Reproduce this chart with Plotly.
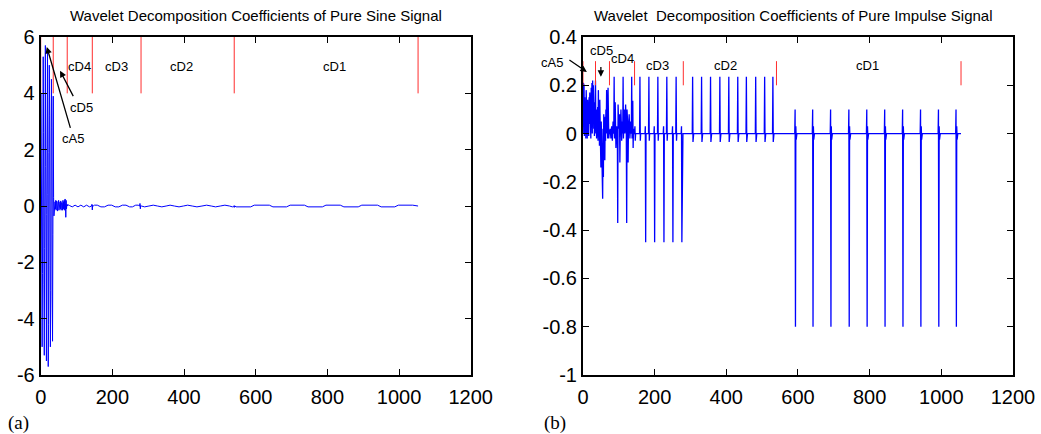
import plotly.graph_objects as go

# ---------------- (a) Pure sine signal: coefficient values ----------------
sine_cA5_x = list(range(1, 36))
sine_cA5 = [4.0, 1.2, -3.1, -5.0, -2.4, 2.9, 5.3, 2.6, -2.8, -5.3, -1.5, 3.8, 5.7, 1.4,
            -4.1, -5.5, -0.3, 5.0, 5.6, 0.4, -5.7, -4.2, 1.9, 5.0, 3.2, -2.1, -5.0, -3.0,
            2.2, 4.5, 2.8, -3.2, -4.8, -1.0, 3.9]
sine_cD5_x = list(range(36, 75))
sine_cD5 = [0.3, -0.35, 0.1, -0.25, 0.15, -0.1, 0.2, -0.15, 0.18, -0.12, 0.15, -0.18, 0.12,
            -0.1, 0.2, -0.15, 0.1, -0.12, 0.15, -0.1, 0.18, -0.15, 0.12, -0.12, 0.1, -0.15,
            0.2, -0.1, 0.15, -0.12, 0.2, -0.15, 0.25, 0.1, -0.4, 0.2, -0.1, 0.05, 0.0]
sine_cD4 = [(75, 0.05), (80, 0.02), (88, -0.03), (96, 0.03), (104, -0.03), (112, 0.03),
            (120, -0.03), (128, 0.03), (136, -0.03), (142, 0.0), (143, 0.06), (144, -0.14),
            (145, 0.03), (147, 0.0)]
sine_cD3 = [(150, 0.03), (158, 0.03), (163, 0.0), (168, -0.03), (178, -0.03), (183, 0.0),
            (188, 0.03), (198, 0.03), (203, 0.0), (208, -0.03), (218, -0.03), (223, 0.0),
            (228, 0.03), (238, 0.03), (243, 0.0), (248, -0.03), (256, -0.03), (261, 0.0),
            (265, 0.03), (272, 0.03), (276, 0.0), (277, 0.09), (278, -0.1), (279, 0.02),
            (281, 0.0)]
sine_cD2 = [(290, -0.03), (302, 0.0), (314, 0.03), (326, 0.0), (338, -0.03), (350, 0.0),
            (361, 0.03), (373, 0.0), (386, -0.03), (398, 0.0), (410, 0.03), (423, 0.0),
            (436, -0.03), (450, 0.0), (463, 0.03), (476, 0.0), (488, -0.03), (501, 0.0),
            (514, 0.03), (527, 0.0), (535, -0.03), (539, 0.0), (540, -0.05), (541, 0.01)]
sine_cD1 = [(545, -0.03), (586, -0.03), (596, 0.03), (638, 0.03), (648, -0.03), (686, -0.03),
            (696, 0.03), (736, 0.03), (746, -0.03), (786, -0.03), (796, 0.03), (836, 0.03),
            (846, -0.03), (886, -0.03), (896, 0.03), (940, 0.03), (950, -0.03), (988, -0.03),
            (998, 0.03), (1038, 0.03), (1046, 0.0), (1053, 0.0)]
sine_bounds = [0, 35, 74, 144, 280, 540, 1053]
sine_bound_span = [4, 6]

# ---------------- (b) Pure impulse signal: coefficient values ----------------
imp_cA5_x = list(range(0, 35))
imp_cA5 = [0.0, 0.21, 0.02, 0.2, -0.01, 0.15, 0.03, 0.12, -0.02, 0.18, 0.0, 0.1, -0.02, 0.14,
           0.02, 0.08, -0.01, 0.15, 0.04, 0.17, 0.0, 0.12, -0.02, 0.19, 0.03, 0.21, 0.0, 0.22,
           0.05, 0.2, 0.02, 0.13, -0.01, 0.08, 0.0]
imp_cD5_x = list(range(35, 74))
imp_cD5 = [0.22, 0.0, 0.1, -0.02, 0.08, 0.01, 0.11, -0.03, 0.18, 0.02, 0.1, -0.05, 0.14, 0.0,
           0.06, -0.14, 0.05, -0.08, 0.04, -0.2, -0.27, 0.02, -0.18, 0.08, -0.05, 0.05, -0.11,
           0.07, -0.03, 0.1, 0.0, 0.18, 0.02, 0.12, -0.02, 0.19, 0.0, -0.02, 0.0]
imp_cD4 = [(74, 0.0), (76, 0.02), (78, -0.02), (80, 0.03), (82, -0.03), (84, 0.05), (86, 0.0),
           (87, 0.235), (88, -0.02), (90, 0.13), (92, -0.06), (94, 0.03), (96, 0.0), (97, -0.37),
           (98, 0.12), (100, 0.02), (102, 0.08), (103, -0.12), (104, 0.0), (106, 0.1),
           (108, -0.03), (110, 0.05), (111, 0.0), (112, 0.235), (113, -0.02), (115, 0.1),
           (117, 0.0), (119, 0.12), (121, 0.0), (122, -0.37), (123, 0.1), (125, 0.03),
           (126, -0.12), (127, 0.02), (129, 0.08), (131, -0.02), (133, 0.05), (135, 0.0),
           (136, 0.235), (137, -0.02), (139, 0.136), (140, -0.06), (141, 0.02), (143, 0.0)]
imp_cD3 = [(144, 0.0), (145, 0.03), (146, -0.03), (147, 0.0), (158, 0.0), (159, 0.235),
           (160, -0.03), (161, 0.0), (173, 0.0), (174, 0.03), (175, -0.45), (176, 0.0),
           (183, 0.0), (184, 0.235), (185, -0.03), (186, 0.0), (198, 0.0), (199, 0.03),
           (200, -0.45), (201, 0.0), (208, 0.0), (209, 0.235), (210, -0.03), (211, 0.0),
           (224, 0.0), (225, 0.03), (226, -0.45), (227, 0.0), (233, 0.0), (234, 0.235),
           (235, -0.03), (236, 0.0), (249, 0.0), (250, 0.03), (251, -0.45), (252, 0.0),
           (259, 0.0), (260, 0.235), (261, -0.03), (262, 0.0), (274, 0.0), (275, 0.03),
           (276, -0.45), (277, 0.0), (279, 0.0)]
imp_cD2 = [(305, 0.0), (306, 0.235), (307, -0.035), (309, 0.0),
           (330, 0.0), (331, 0.235), (332, -0.035), (334, 0.0),
           (355, 0.0), (356, 0.235), (357, -0.035), (359, 0.0),
           (381, 0.0), (382, 0.235), (383, -0.035), (385, 0.0),
           (406, 0.0), (407, 0.235), (408, -0.035), (410, 0.0),
           (431, 0.0), (432, 0.235), (433, -0.035), (435, 0.0),
           (455, 0.0), (456, 0.235), (457, -0.035), (459, 0.0),
           (481, 0.0), (482, 0.235), (483, -0.035), (485, 0.0),
           (506, 0.0), (507, 0.235), (508, -0.035), (510, 0.0),
           (529, 0.0), (530, 0.235), (531, -0.035), (533, 0.0), (539, 0.0)]
imp_cD1 = [(591, 0.0), (592, 0.1), (593, -0.8), (594, 0.03), (595, -0.025), (597, 0.0),
           (640, 0.0), (641, 0.1), (642, -0.8), (643, 0.03), (644, -0.025), (646, 0.0),
           (690, 0.0), (691, 0.1), (692, -0.8), (693, 0.03), (694, -0.025), (696, 0.0),
           (741, 0.0), (742, 0.1), (743, -0.8), (744, 0.03), (745, -0.025), (747, 0.0),
           (791, 0.0), (792, 0.1), (793, -0.8), (794, 0.03), (795, -0.025), (797, 0.0),
           (841, 0.0), (842, 0.1), (843, -0.8), (844, 0.03), (845, -0.025), (847, 0.0),
           (891, 0.0), (892, 0.1), (893, -0.8), (894, 0.03), (895, -0.025), (897, 0.0),
           (941, 0.0), (942, 0.1), (943, -0.8), (944, 0.03), (945, -0.025), (947, 0.0),
           (991, 0.0), (992, 0.1), (993, -0.8), (994, 0.03), (995, -0.025), (997, 0.0),
           (1040, 0.0), (1041, 0.1), (1042, -0.8), (1043, 0.03), (1044, -0.025), (1046, 0.0),
           (1055, 0.0)]
imp_bounds = [0, 35, 74, 144, 280, 540, 1055]
imp_bound_span = [0.2, 0.3]

# ---------------- ticks / labels ----------------
x_ticks = [0, 200, 400, 600, 800, 1000, 1200]
x_tick_labels = ["0", "200", "400", "600", "800", "1000", "1200"]
sine_y_ticks = [-6, -4, -2, 0, 2, 4, 6]
sine_y_tick_labels = ["-6", "-4", "-2", "0", "2", "4", "6"]
imp_y_ticks = [-1, -0.8, -0.6, -0.4, -0.2, 0, 0.2, 0.4]
imp_y_tick_labels = ["-1", "-0.8", "-0.6", "-0.4", "-0.2", "0", "0.2", "0.4"]

title_a = "Wavelet Decomposition Coefficients of Pure Sine Signal"
title_b = "Wavelet \u00a0Decomposition Coefficients of Pure Impulse Signal"

# label: (text, x, y) in data units
sine_labels = [("cD4", 108, 4.95), ("cD3", 212, 4.95), ("cD2", 394, 4.95), ("cD1", 821, 4.95),
               ("cD5", 115, 3.5), ("cA5", 90, 2.4)]
# arrows: (head_x, head_y, tail_x, tail_y)
sine_arrows = [(54, 4.8, 93, 3.85), (17, 5.65, 84, 2.72)]
imp_labels = [("cD5", 52, 0.346), ("cD4", 110, 0.313),
              ("cD3", 208, 0.28), ("cD2", 398, 0.28), ("cD1", 793, 0.284)]
imp_arrows = [(11, 0.255, -42, 0.309), (50, 0.235, 50, 0.282)]
# label that sits left of the (b) axis, in paper units
imp_outside_label = ("cA5", 0.5307, 0.8571)


def join_segments(parts):
    xs, ys = [], []
    for p in parts:
        if isinstance(p, tuple):
            xs += list(p[0]); ys += list(p[1])
        else:
            xs += [a for a, b in p]; ys += [b for a, b in p]
    return xs, ys


sx, sy = join_segments([(sine_cA5_x, sine_cA5), (sine_cD5_x, sine_cD5),
                        sine_cD4, sine_cD3, sine_cD2, sine_cD1])
ix, iy = join_segments([(imp_cA5_x, imp_cA5), (imp_cD5_x, imp_cD5),
                        imp_cD4, imp_cD3, imp_cD2, imp_cD1])


def bound_lines(bounds, span):
    xs, ys = [], []
    for b in bounds:
        xs += [b, b, None]; ys += [span[0], span[1], None]
    return xs, ys


sbx, sby = bound_lines(sine_bounds, sine_bound_span)
ibx, iby = bound_lines(imp_bounds, imp_bound_span)

BLUE = "rgb(0,0,255)"
RED = "rgb(255,45,45)"
SANS = "Liberation Sans"

fig = go.Figure()
fig.add_trace(go.Scatter(x=sx, y=sy, mode="lines", line=dict(color=BLUE, width=1),
                         xaxis="x", yaxis="y", showlegend=False, hoverinfo="skip"))
fig.add_trace(go.Scatter(x=sbx, y=sby, mode="lines", line=dict(color=RED, width=1),
                         xaxis="x", yaxis="y", showlegend=False, hoverinfo="skip"))
fig.add_trace(go.Scatter(x=ix, y=iy, mode="lines", line=dict(color=BLUE, width=1.3),
                         xaxis="x2", yaxis="y2", showlegend=False, hoverinfo="skip"))
fig.add_trace(go.Scatter(x=ibx, y=iby, mode="lines", line=dict(color=RED, width=1),
                         xaxis="x2", yaxis="y2", showlegend=False, hoverinfo="skip"))

axis_common = dict(showline=True, linecolor="black", linewidth=2, mirror="ticks",
                   ticks="inside", ticklen=6, tickwidth=1, tickcolor="black",
                   showgrid=False, zeroline=False, automargin=False,
                   tickfont=dict(family=SANS, size=20, color="black"))

annotations = []
for xref, yref, labels, arrows in [("x", "y", sine_labels, sine_arrows),
                                   ("x2", "y2", imp_labels, imp_arrows)]:
    for t, x, y in labels:
        annotations.append(dict(text=t, x=x, y=y, xref=xref, yref=yref, showarrow=False,
                                font=dict(family=SANS, size=13, color="black"),
                                xanchor="center", yanchor="middle"))
    for hx, hy, tx, ty in arrows:
        annotations.append(dict(text="", x=hx, y=hy, xref=xref, yref=yref,
                                ax=tx, ay=ty, axref=xref, ayref=yref, showarrow=True,
                                arrowhead=2, arrowsize=1, arrowwidth=1.3,
                                arrowcolor="black", standoff=0, startstandoff=0))

t, px, py = imp_outside_label
annotations.append(dict(text=t, x=px, y=py, xref="paper", yref="paper", showarrow=False,
                        font=dict(family=SANS, size=13, color="black"),
                        xanchor="center", yanchor="middle"))

annotations += [
    dict(text=title_a, x=0.2456, y=0.9654, xref="paper", yref="paper", showarrow=False,
         font=dict(family=SANS, size=15, color="black"), xanchor="center", yanchor="middle"),
    dict(text=title_b, x=0.7618, y=0.9654, xref="paper", yref="paper", showarrow=False,
         font=dict(family=SANS, size=15, color="black"), xanchor="center", yanchor="middle"),
    dict(text="(a)", x=0.0178, y=0.0253, xref="paper", yref="paper", showarrow=False,
         font=dict(family="Liberation Serif", size=19, color="black"),
         xanchor="center", yanchor="middle"),
    dict(text="(b)", x=0.533, y=0.0253, xref="paper", yref="paper", showarrow=False,
         font=dict(family="Liberation Serif", size=19, color="black"),
         xanchor="center", yanchor="middle"),
]

fig.update_layout(
    width=1041, height=434, margin=dict(l=0, r=0, t=0, b=0),
    paper_bgcolor="white", plot_bgcolor="white", showlegend=False,
    xaxis=dict(domain=[0.0391, 0.4522], range=[0, 1200], tickvals=x_ticks,
               ticktext=x_tick_labels, anchor="y", ticklabelstandoff=3, **axis_common),
    yaxis=dict(domain=[0.1359, 0.9147], range=[-6, 6], tickvals=sine_y_ticks,
               ticktext=sine_y_tick_labels, anchor="x", **axis_common),
    xaxis2=dict(domain=[0.5600, 0.9731], range=[0, 1200], tickvals=x_ticks,
                ticktext=x_tick_labels, anchor="y2", ticklabelstandoff=3, **axis_common),
    yaxis2=dict(domain=[0.1359, 0.9147], range=[-1, 0.4], tickvals=imp_y_ticks,
                ticktext=imp_y_tick_labels, anchor="x2", **axis_common),
    annotations=annotations,
)

fig.write_html("out.html")
